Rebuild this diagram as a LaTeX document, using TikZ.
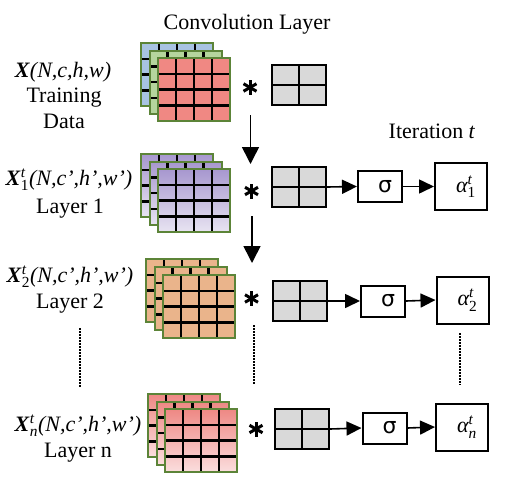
\RequirePackage{fix-cm}
\documentclass[tikz,border=0pt]{standalone}
\usepackage{amsmath}
\usepackage{fontspec}
\setmainfont{Liberation Serif}
\newfontfamily\sigfont{DejaVu Sans}
\usetikzlibrary{arrows.meta,calc}
\definecolor{sqgreen}{HTML}{5C8438}
\definecolor{sqblue}{HTML}{A8C3E2}
\definecolor{sqlgreen}{HTML}{B5D59D}
\definecolor{sqred}{HTML}{F08883}
\definecolor{purtop}{HTML}{A797CF}
\definecolor{purbot}{HTML}{E8E4F2}
\definecolor{sqorange}{HTML}{EAB48B}
\definecolor{redtop}{HTML}{EE8884}
\definecolor{redbot}{HTML}{FBDEDE}
\definecolor{kgrey}{HTML}{D9D9D9}
\tikzset{
  gridsq/.style={draw=sqgreen, line width=2.2pt, minimum width=72pt, minimum height=63pt,
    inner sep=0pt, anchor=north west,
    path picture={
      \foreach \f in {0.25,0.5,0.75}{
        \draw[black,line width=2.4pt]
          ($(path picture bounding box.south west)!\f!(path picture bounding box.south east)$) --
          ($(path picture bounding box.north west)!\f!(path picture bounding box.north east)$);
        \draw[black,line width=2.4pt]
          ($(path picture bounding box.south west)!\f!(path picture bounding box.north west)$) --
          ($(path picture bounding box.south east)!\f!(path picture bounding box.north east)$);
      }}},
  kernel/.style={draw=black, line width=2pt, fill=kgrey, minimum width=54pt, minimum height=40pt,
    inner sep=0pt,
    path picture={
      \draw[line width=2pt] (path picture bounding box.north) -- (path picture bounding box.south);
      \draw[line width=2pt] (path picture bounding box.west) -- (path picture bounding box.east);}},
  sigbox/.style={draw, line width=2pt, minimum width=44pt, minimum height=31pt, inner sep=0pt,
    font=\sigfont\fontsize{22}{26}\selectfont},
  alphabox/.style={draw, line width=2pt, minimum width=52pt, minimum height=47pt, inner sep=0pt},
  astx/.style={minimum width=15pt, minimum height=14pt, inner sep=0pt,
    path picture={
      \foreach \a in {90,30,150}{
        \draw[line width=3pt] ($(path picture bounding box.center)+(\a:7.5pt)$) --
          ($(path picture bounding box.center)+(\a+180:7.5pt)$);}}},
  harr/.style={line width=1.6pt, -{Triangle[length=15pt,width=14pt]}},
  varr/.style={line width=1.6pt, -{Triangle[length=17pt,width=17pt]}},
  dots/.style={line width=2pt, dash pattern=on 1.5pt off 1.5pt},
  lbl/.style={inner sep=0pt, anchor=base}
}
\begin{document}
\begin{tikzpicture}[x=1pt,y=-1pt,font=\fontsize{22}{26}\selectfont]
\useasboundingbox (0,0) rectangle (508,482);

% titles
\node[lbl] (title) at (247,29) {Convolution Layer};
\node[lbl] (iter) at (432,138) {Iteration \textit{t}};

% row 1
\node[lbl] (x1) at (63,77) {\textbf{\textit{X}}\textit{(N,c,h,w)}};
\node[lbl] (x1b) at (64,102) {Training};
\node[lbl] (x1c) at (64,128) {Data};
\node[gridsq, fill=sqblue] (t1a) at (140,42) {};
\node[gridsq, fill=sqlgreen] (t1b) at (148.5,49.5) {};
\node[gridsq, fill=sqred] (t1c) at (157,57) {};
\node[astx] (s1) at (250,87.5) {};
\node[kernel] (k1) at (299,85) {};

% row 2
\node[lbl] (x2) at (69,185) {\textbf{\textit{X}}$^{\textit{t}}_{\textrm{1}}$\textit{(N,c’,h’,w’)}};
\node[lbl] (x2b) at (70,213) {Layer 1};
\node[gridsq, top color=purtop, bottom color=purbot] (t2a) at (140,153) {};
\node[gridsq, top color=purtop, bottom color=purbot] (t2b) at (148.5,160.5) {};
\node[gridsq, top color=purtop, bottom color=purbot] (t2c) at (157,168) {};
\node[astx] (s2) at (251.5,191) {};
\node[kernel] (k2) at (299,187) {};
\node[sigbox] (g2) at (380,186.5) {\hspace*{10pt}σ};
\node[alphabox] (a2) at (461,186.5) {\hspace*{10pt}$\textit{α}^{\textit{t}}_{\textrm{1}}$};

% row 3
\node[lbl] (x3) at (70,282) {\textbf{\textit{X}}$^{\textit{t}}_{\textrm{2}}$\textit{(N,c’,h’,w’)}};
\node[lbl] (x3b) at (70,308) {Layer 2};
\node[gridsq, fill=sqorange] (t3a) at (145,258) {};
\node[gridsq, fill=sqorange] (t3b) at (153.5,266) {};
\node[gridsq, fill=sqorange] (t3c) at (162,274) {};
\node[astx] (s3) at (251.5,298.5) {};
\node[kernel] (k3) at (299.5,301) {};
\node[sigbox] (g3) at (383,301) {\hspace*{10pt}σ};
\node[alphabox] (a3) at (462.5,300) {\hspace*{10pt}$\textit{α}^{\textit{t}}_{\textrm{2}}$};

% row 4
\node[lbl] (x4) at (78,431) {\textbf{\textit{X}}$^{\textit{t}}_{\textit{n}}$\textit{(N,c’,h’,w’)}};
\node[lbl] (x4b) at (78,457) {Layer n};
\node[gridsq, top color=redtop, bottom color=redbot] (t4a) at (147,393) {};
\node[gridsq, top color=redtop, bottom color=redbot] (t4b) at (155.5,400.5) {};
\node[gridsq, top color=redtop, bottom color=redbot] (t4c) at (164,408) {};
\node[astx] (s4) at (256,429) {};
\node[kernel] (k4) at (302,429) {};
\node[sigbox] (g4) at (384.5,428) {\hspace*{10pt}σ};
\node[alphabox] (a4) at (462,427) {\hspace*{10pt}$\textit{α}^{\textit{t}}_{\textit{n}}$};

% vertical arrows
\coordinate (v1s) at (250.5,115);
\coordinate (v1e) at (250.5,164);
\coordinate (v2s) at (252,216);
\coordinate (v2e) at (252,263);
\draw[varr] (v1s) -- (v1e);
\draw[varr] (v2s) -- (v2e);

% horizontal arrows
\draw[harr] (k2.east) -- (g2.west);
\draw[harr] (g2.east) -- (a2.west);
\draw[harr] (k3.east) -- (g3.west);
\draw[harr] (g3.east) -- (a3.west);
\draw[harr] (k4.east) -- (g4.west);
\draw[harr] (g4.east) -- (a4.west);

% dotted lines
\coordinate (d1s) at (80,328);
\coordinate (d1e) at (80,388);
\coordinate (d2s) at (254,325);
\coordinate (d2e) at (254,385);
\coordinate (d3s) at (460,333);
\coordinate (d3e) at (460,385);
\draw[dots] (d1s) -- (d1e);
\draw[dots] (d2s) -- (d2e);
\draw[dots] (d3s) -- (d3e);
\end{tikzpicture}
\end{document}
